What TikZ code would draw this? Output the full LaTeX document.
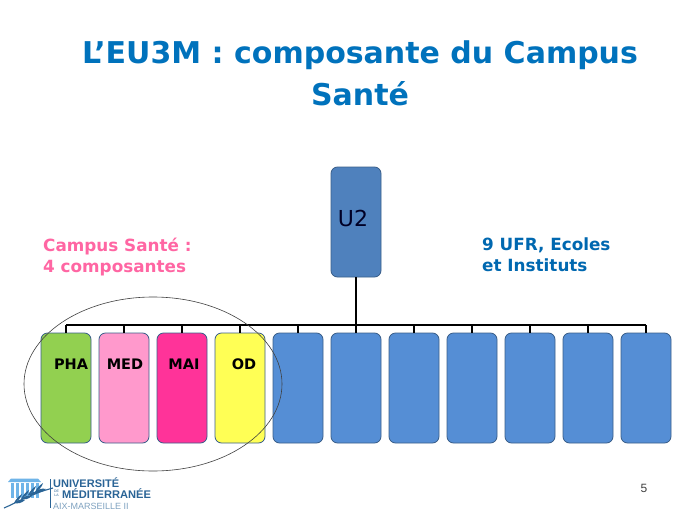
\documentclass[tikz,border=0pt]{standalone}
\usepackage{fontspec}
\usetikzlibrary{shapes.geometric}
\setmainfont{DejaVu Sans}
\newfontfamily\logofont{Liberation Sans}
\definecolor{ttl}{HTML}{0072BC}
\definecolor{bluebox}{HTML}{558ED5}
\definecolor{uu}{HTML}{4F81BD}
\definecolor{edgeb}{HTML}{3A5F8A}
\definecolor{camp}{HTML}{FF66A3}
\definecolor{ufr}{HTML}{0068B0}
\definecolor{logob}{HTML}{2A6496}
\definecolor{logol}{HTML}{6FB4E8}
\tikzset{x=1pt,y=-1pt,
 org/.style={draw=edgeb,line width=0.8pt,rounded corners=6.5pt,minimum width=50pt,minimum height=110pt,inner sep=0pt},
 lab/.style={font=\bfseries\fontsize{14.5}{16}\selectfont,text=black,inner sep=0pt},
 link/.style={draw=black,line width=2.2pt},
 drop/.style={draw=black,line width=1.5pt},
 titlet/.style={font=\bfseries\fontsize{30}{36}\selectfont,text=ttl,inner sep=0pt},
 side/.style={font=\bfseries\fontsize{16.8}{21}\selectfont,align=left,anchor=north west,inner sep=0pt}}
\begin{document}
\begin{tikzpicture}
\useasboundingbox (0,0) rectangle (689,517);
\fill[white] (0,0) rectangle (689,517);
\node[titlet] (t1) at (360,55) {L’EU3M : composante du Campus};
\node[titlet] (t2) at (360,94) {Santé};
\node[side,text=camp] (cs) at (43,238) {Campus Santé :\\4 composantes};
\node[side,text=ufr] (uf) at (482,238) {9 UFR, Ecoles\\et Instituts};
\coordinate (bus) at (356,325);
\coordinate (busl) at (66,325);
\coordinate (busr) at (646,325);
\node[org,fill=uu] (u2) at (356,222) {};
\node[font=\fontsize{22}{26}\selectfont,text=black!85!blue,inner sep=0pt] (u2t) at (353,218) {U2};
\node[org,fill={rgb,255:red,146;green,208;blue,80}] (b1) at (66,388) {};
\node[org,fill={rgb,255:red,255;green,153;blue,204}] (b2) at (124,388) {};
\node[org,fill={rgb,255:red,255;green,51;blue,153}] (b3) at (182,388) {};
\node[org,fill={rgb,255:red,255;green,255;blue,85}] (b4) at (240,388) {};
\node[org,fill=bluebox] (b5) at (298,388) {};
\node[org,fill=bluebox] (b6) at (356,388) {};
\node[org,fill=bluebox] (b7) at (414,388) {};
\node[org,fill=bluebox] (b8) at (472,388) {};
\node[org,fill=bluebox] (b9) at (530,388) {};
\node[org,fill=bluebox] (b10) at (588,388) {};
\node[org,fill=bluebox] (b11) at (646,388) {};
\draw[link] (u2.south) -- (bus);
\draw[link] (busl) -- (busr);
\foreach \n in {b1,b2,b3,b4,b5,b6,b7,b8,b9,b10,b11}{
  \draw[drop] (\n.north |- bus) -- (\n.north);
}
\node[lab] (l1) at (71,364) {PHA};
\node[lab] (l2) at (125,364) {MED};
\node[lab] (l3) at (184,364) {MAI};
\node[lab] (l4) at (244,364) {OD};
\node[draw=black!75,line width=0.6pt,ellipse,minimum width=258pt,minimum height=174pt,inner sep=0pt] (ring) at (153,384) {};
% logo
\fill[logol] (8,482) -- (41,482) -- (38,478.5) -- (11,478.5) -- cycle;
\foreach \x in {11,16,21,26,31,36}{\fill[logol] (\x,483) rectangle (\x+2.8,498);}
\draw[logob,line width=1.1pt] (4,508) .. controls (16,503) and (30,494) .. (53,488);
\foreach \x/\y in {14/503,21/499,28/495,35/492}{
  \fill[logob] (\x,\y) .. controls (\x+2,\y-4) and (\x+5,\y-7) .. (\x+8,\y-9) .. controls (\x+7,\y-5) and (\x+4,\y-2) .. (\x,\y) -- cycle;
  \fill[logob] (\x,\y) .. controls (\x+4,\y+1) and (\x+8,\y) .. (\x+11,\y-3) .. controls (\x+7,\y-4) and (\x+3,\y-3) .. (\x,\y) -- cycle;
}
\draw[logob,line width=0.4pt] (50.5,479) -- (50.5,508);
\node[font=\logofont\bfseries\fontsize{11}{11}\selectfont,text=logob,anchor=west,inner sep=0pt] (lg1) at (53,483) {UNIVERSITÉ};
\node[font=\logofont\fontsize{3.5}{4}\selectfont,text=logob,anchor=west,inner sep=0pt,align=center] (lg2) at (54,493.5) {DE\\LA};
\node[font=\logofont\bfseries\fontsize{11.1}{11}\selectfont,text=logob,anchor=west,inner sep=0pt] (lg3) at (62,494) {MÉDITERRANÉE};
\node[font=\logofont\fontsize{9}{10}\selectfont,text=logob!60,anchor=west,inner sep=0pt] (lg4) at (53,506) {AIX-MARSEILLE II};
\node[font=\logofont\fontsize{12}{14}\selectfont,text=black!75,inner sep=0pt] (pg) at (644,488) {5};
\end{tikzpicture}
\end{document}
